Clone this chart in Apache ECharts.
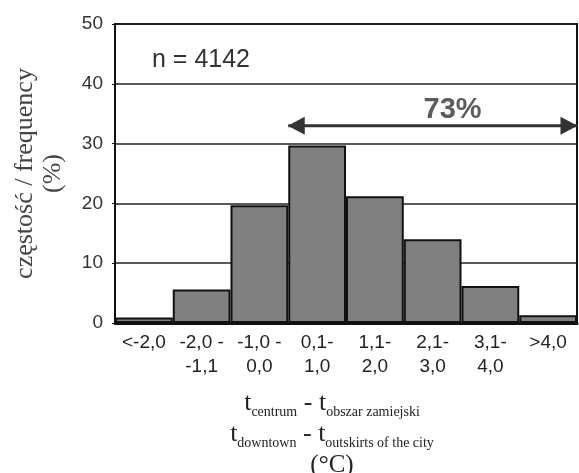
<!DOCTYPE html>
<html>
<head>
<meta charset="utf-8">
<script src="https://cdn.jsdelivr.net/npm/echarts@6/dist/echarts.min.js"></script>
<style>html,body{margin:0;padding:0;background:#fff}#c{width:579px;height:473px}</style>
</head>
<body>
<div id="c"></div>
<script>
var categories = ['<-2,0', '-2,0 -\n-1,1', '-1,0 -\n0,0', '0,1-\n1,0', '1,1-\n2,0', '2,1-\n3,0', '3,1-\n4,0', '>4,0'];
var frequency = [0.9, 5.6, 19.7, 29.7, 21.2, 14.0, 6.2, 1.3];
var yTicks = [0, 10, 20, 30, 40, 50];
var arrowStart = 3;   // left edge of "0,1-1,0" class (in class units)
var arrowEnd = 8;     // right edge of the last class
var arrowLevel = 33;  // % level of the arrow
var arrowLabel = '73%';
var sampleLabel = 'n = 4142';

var SANS = '"Liberation Sans", Arial, sans-serif';
var SERIF = '"Liberation Serif", "Times New Roman", serif';

var chart = echarts.init(document.getElementById('c'), null, {renderer: 'canvas'});
chart.setOption({
  animation: false,
  backgroundColor: '#ffffff',
  title: {
    text: sampleLabel,
    left: 147, top: 43,
    textStyle: {fontFamily: SANS, fontSize: 25, fontWeight: 'normal', color: '#333'}
  },
  grid: {left: 115, right: 2, top: 24, bottom: 150, outerBoundsMode: 'none', containLabel: false,
    show: true, borderColor: '#111', borderWidth: 2, backgroundColor: 'transparent'},
  xAxis: [{
    type: 'category',
    data: categories,
    boundaryGap: true,
    axisLine: {show: true, lineStyle: {color: '#111', width: 3}},
    axisTick: {show: false},
    axisLabel: {fontFamily: SANS, fontSize: 19, color: '#222', lineHeight: 24, margin: 8, interval: 0},
    name: '{t|t}{s|centrum}{t| - t}{s|obszar zamiejski}\n{t|t}{s|downtown}{t| - t}{s|outskirts of the city}\n{c|(°C)}',
    nameLocation: 'middle',
    nameGap: 65,
    nameTextStyle: {
      color: '#222',
      padding: [0, 28, 0, 0],
      rich: {
        t: {fontFamily: SERIF, fontSize: 26, lineHeight: 31, color: '#222'},
        s: {fontFamily: SERIF, fontSize: 14, lineHeight: 14, verticalAlign: 'bottom', color: '#222'},
        c: {fontFamily: SERIF, fontSize: 25, lineHeight: 31, color: '#222'}
      }
    }
  }, {
    type: 'value', min: 0, max: 8, show: false
  }],
  yAxis: {
    type: 'value', min: 0, max: 50, interval: 10,
    axisLine: {show: true, lineStyle: {color: '#111', width: 2}},
    axisTick: {show: true, length: 3, lineStyle: {color: '#111', width: 1}},
    axisLabel: {fontFamily: SANS, fontSize: 19, color: '#333', margin: 12,
      formatter: function (v) { return yTicks.indexOf(v) >= 0 ? String(v) : ''; }},
    splitLine: {show: true, lineStyle: {color: '#222', width: 1.5}},
    name: 'częstość / frequency\n(%)',
    nameLocation: 'middle',
    nameGap: 48,
    nameTextStyle: {fontFamily: SERIF, fontSize: 26, lineHeight: 28, color: '#444'}
  },
  series: [{
    type: 'bar',
    data: frequency,
    barCategoryGap: '0%',
    itemStyle: {color: '#808080', borderColor: '#111', borderWidth: 2},
    z: 3
  }, {
    type: 'line',
    xAxisIndex: 1,
    data: [
      {value: [arrowStart, arrowLevel], symbolRotate: 90, symbolOffset: [8, 0]},
      {value: [arrowEnd, arrowLevel], symbolRotate: -90, symbolOffset: [-8, 0]}
    ],
    symbol: 'triangle',
    symbolSize: [18, 17],
    lineStyle: {color: '#333', width: 3},
    itemStyle: {color: '#333'},
    z: 5,
    silent: true
  }, {
    type: 'scatter',
    xAxisIndex: 1,
    data: [[(arrowStart + arrowEnd) / 2, arrowLevel]],
    symbolSize: 0,
    label: {show: true, position: 'top', distance: 1, offset: [20, 0], formatter: arrowLabel,
      fontFamily: SANS, fontSize: 29, fontWeight: 'bold', color: '#333'},
    z: 5,
    silent: true
  }]
});
</script>
</body>
</html>
